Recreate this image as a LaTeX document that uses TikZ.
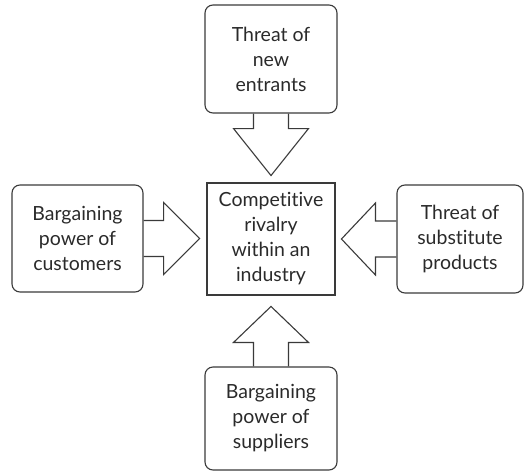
\documentclass[tikz,border=0pt]{standalone}
\usepackage{fontspec}
\setmainfont{Lato}[Ligatures=NoCommon]
\definecolor{linegray}{HTML}{3A3A3A}
\definecolor{textgray}{HTML}{2A2A2A}
\begin{document}
\begin{tikzpicture}[x=1pt,y=-1pt,
  boxbase/.style={draw=linegray, line width=1.1pt, align=center, text=textgray,
    font=\fontsize{19.5}{25}\selectfont, inner sep=0pt},
  rbox/.style={boxbase, rounded corners=8pt},
  cbox/.style={boxbase},
  blockarrow/.style={draw=linegray, line width=1.1pt, line join=miter}]
\useasboundingbox (0,0) rectangle (524,474);
\node[rbox, minimum width=132pt, minimum height=108pt] (top) at (271,59) {Threat of\\new\\entrants};
\node[rbox, minimum width=131pt, minimum height=107pt] (left) at (77.5,238.5) {Bargaining\\power of\\customers};
\node[rbox, minimum width=126pt, minimum height=108pt] (right) at (460,239) {Threat of\\substitute\\products};
\node[rbox, minimum width=132pt, minimum height=103pt] (bottom) at (271,418.5) {Bargaining\\power of\\suppliers};
\node[cbox, minimum width=128pt, minimum height=112pt] (center) at (271,239) {Competitive\\rivalry\\within an\\industry};
% top arrow
\draw[blockarrow] (top.south) ++(-17.5,0) -- ++(0,15) -- ++(-20,0) -- ++(37.5,47) -- ++(37.5,-47) -- ++(-20,0) -- ++(0,-15);
% bottom arrow
\draw[blockarrow] (bottom.north) ++(-17.5,0) -- ++(0,-24) -- ++(-20,0) -- ++(37.5,-36) -- ++(37.5,36) -- ++(-20,0) -- ++(0,24);
% left arrow
\draw[blockarrow] (left.east) ++(0,-18) -- ++(20,0) -- ++(0,-18) -- ++(36,36) -- ++(-36,36) -- ++(0,-18) -- ++(-20,0);
% right arrow
\draw[blockarrow] (right.west) ++(0,-18) -- ++(-21,0) -- ++(0,-18) -- ++(-34,36) -- ++(34,36) -- ++(0,-18) -- ++(21,0);
\end{tikzpicture}
\end{document}
